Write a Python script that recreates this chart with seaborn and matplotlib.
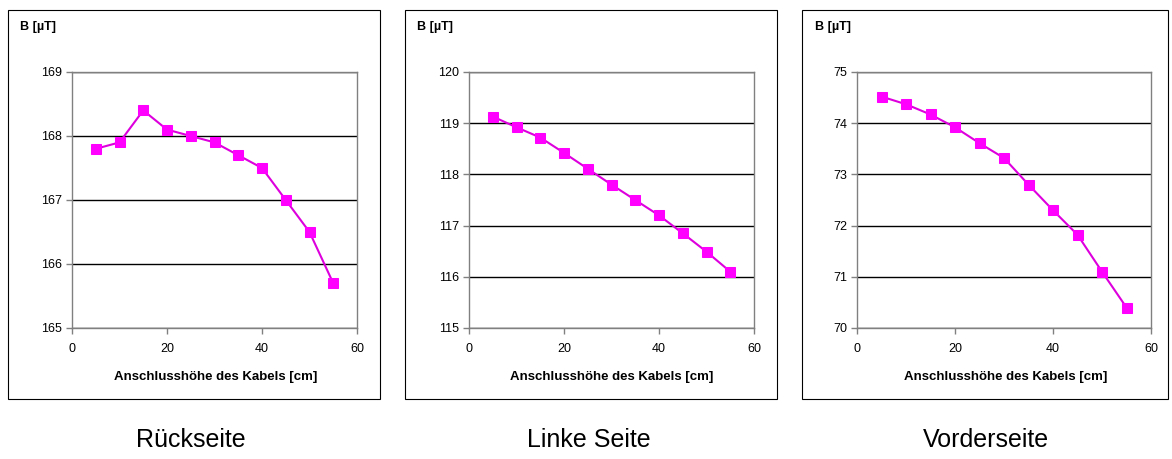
import numpy as np
import pandas as pd
import seaborn as sns
import matplotlib.pyplot as plt
from matplotlib.patches import Rectangle

hoehe = [5, 10, 15, 20, 25, 30, 35, 40, 45, 50, 55]
rueckseite = [167.8, 167.9, 168.4, 168.1, 168.0, 167.9, 167.7, 167.5, 167.0, 166.5, 165.7]
linke_seite = [119.13, 118.92, 118.72, 118.42, 118.11, 117.8, 117.5, 117.2, 116.85, 116.49, 116.1]
vorderseite = [74.52, 74.37, 74.17, 73.92, 73.61, 73.32, 72.8, 72.3, 71.82, 71.1, 70.4]

titel = ["Rückseite", "Linke Seite", "Vorderseite"]
y_bereiche = [(165, 169), (115, 120), (70, 75)]

sns.set_style("white")
plt.rcParams['font.family'] = ['Liberation Sans', 'DejaVu Sans']
plt.rcParams['text.color'] = "black"
plt.rcParams['xtick.color'] = "black"
plt.rcParams['ytick.color'] = "black"

W, H = 1172, 459
fig = plt.figure(figsize=(W / 100, H / 100), dpi=100)

# pixel layouts: frame (x0, x1), plot area (x0, x1), label positions
frames = [(8, 380), (405, 777), (802, 1168)]
plots = [(72, 357), (469, 754), (857, 1151)]
b_x = [20, 417, 815]
xl_x = [216, 612, 1006]
titel_x = [191, 589, 986]
plot_top, plot_bot = 72, 328

for i, werte in enumerate([rueckseite, linke_seite, vorderseite]):
    fx0, fx1 = frames[i]
    fig.patches.append(Rectangle((fx0 / W, 1 - 399 / H), (fx1 - fx0) / W, 389 / H,
                                 transform=fig.transFigure, fill=False,
                                 edgecolor="black", linewidth=0.8))
    px0, px1 = plots[i]
    ax = fig.add_axes([px0 / W, 1 - plot_bot / H, (px1 - px0) / W, (plot_bot - plot_top) / H])
    df = pd.DataFrame({"x": hoehe, "y": werte})
    sns.lineplot(data=df, x="x", y="y", ax=ax, color="#dd00dd", linewidth=1.5,
                 marker="s", markersize=6.5, markerfacecolor="#ff00ff",
                 markeredgecolor="#ff00ff", zorder=3)
    lo, hi = y_bereiche[i]
    ax.set_ylim(lo, hi)
    ax.set_xlim(0, 60)
    ax.set_yticks(np.arange(lo, hi + 1, 1))
    ax.set_xticks([0, 20, 40, 60])
    ax.yaxis.grid(True, color="black", linewidth=1)
    ax.set_axisbelow(True)
    for s in ax.spines.values():
        s.set_color("#808080")
        s.set_linewidth(1)
    ax.tick_params(axis="both", direction="out", length=4, width=1, color="#808080",
                   labelsize=9, labelcolor="black", pad=3, left=True, bottom=True)
    ax.tick_params(axis="x", pad=7)
    ax.set_xlabel("")
    ax.set_ylabel("")
    fig.text(b_x[i] / W, 1 - 27 / H, "B [µT]", fontsize=9, fontweight="bold",
             ha="left", va="center")
    fig.text(xl_x[i] / W, 1 - 377 / H, "Anschlusshöhe des Kabels [cm]", fontsize=9.5,
             fontweight="bold", ha="center", va="center")
    fig.text(titel_x[i] / W, 1 - 440 / H, titel[i], fontsize=18, ha="center", va="center")

fig.savefig("out.png", dpi=100)
